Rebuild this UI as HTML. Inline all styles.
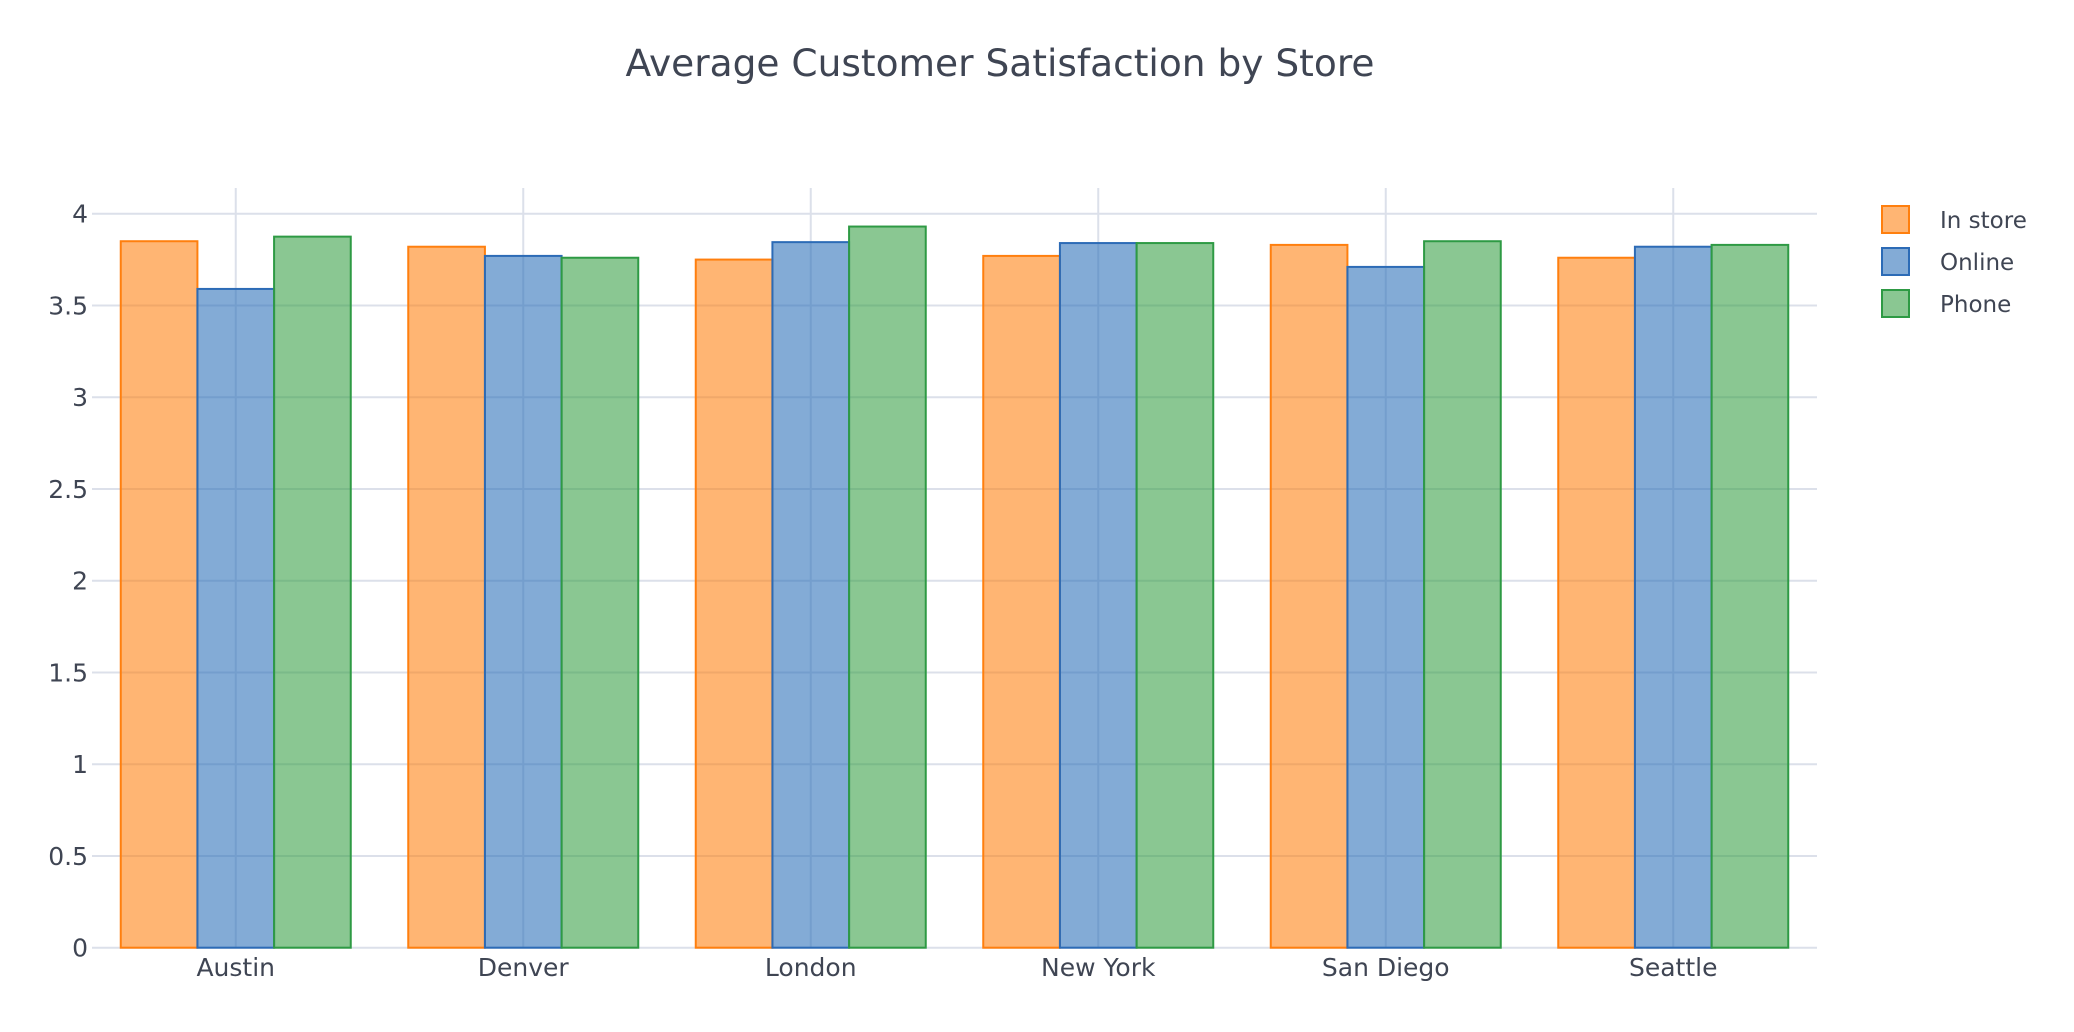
<!DOCTYPE html>
<html><head><meta charset="utf-8"><style>
body{margin:0;background:#fff;}
svg{display:block;font-family:"DejaVu Sans","Liberation Sans",sans-serif;}
</style></head><body>
<svg id="chart" width="2074" height="1032">
<text x="1000" y="76" text-anchor="middle" font-size="37.5" fill="#3f4553">Average Customer Satisfaction by Store</text>
<g id="grid"></g><g id="bars"></g><g id="axes"></g><g id="legend"></g>
</svg>
<script>
const categories=["Austin","Denver","London","New York","San Diego","Seattle"];
const seriesNames=["In store","Online","Phone"];
const inStore=[3.85,3.82,3.75,3.77,3.83,3.76];
const online=[3.59,3.77,3.845,3.84,3.71,3.82];
const phone=[3.875,3.76,3.93,3.84,3.85,3.83];
const yTicks=[0,0.5,1,1.5,2,2.5,3,3.5,4];
const yTickLabels=["0","0.5","1","1.5","2","2.5","3","3.5","4"];
const series=[inStore,online,phone];
const fills=["#ff7f0e","#2a6fb8","#359e44"];
const strokes=["#ff7f0e","#2c6bb6","#2e9a44"];
const NS="http://www.w3.org/2000/svg";
const X0=92,X1=1817,Y0=947.7,YTOP=213.7,YMAX=4;
const bandW=(X1-X0)/categories.length;
function y(v){return Y0-(v/YMAX)*(Y0-YTOP);}
function xc(i){return X0+bandW*(i+0.5);}
function mk(tag,attrs,parent){const e=document.createElementNS(NS,tag);for(const k in attrs)e.setAttribute(k,attrs[k]);parent.appendChild(e);return e;}
const grid=document.getElementById('grid'),bars=document.getElementById('bars'),axes=document.getElementById('axes'),legend=document.getElementById('legend');
yTicks.forEach((t,i)=>{
  if(t>0){const l=mk('line',{x1:X0,x2:X1,y1:y(t),y2:y(t),stroke:'#dce0ea','stroke-width':2},grid);
  
  }
  const tx=mk('text',{x:88,y:y(t)+9,'text-anchor':'end','font-size':25,fill:'#3f4553'},axes);
  tx.textContent=yTickLabels[i];
  
  
});
categories.forEach((c,i)=>{
  const l=mk('line',{x1:xc(i),x2:xc(i),y1:188,y2:Y0,stroke:'#dce0ea','stroke-width':2},grid);
  
  
  const tx=mk('text',{x:xc(i),y:976,'text-anchor':'middle','font-size':25,fill:'#3f4553'},axes);
  tx.textContent=c;
  
  
});
const zl=mk('line',{x1:X0,x2:X1,y1:Y0,y2:Y0,stroke:'#dce0ea','stroke-width':2},grid);


const groupW=bandW*0.8,bw=groupW/3;
series.forEach((vals,s)=>{
  vals.forEach((v,i)=>{
    const x=xc(i)-groupW/2+s*bw;
    const r=mk('rect',{x:x,y:y(v),width:bw,height:Y0-y(v),fill:fills[s],'fill-opacity':0.58,stroke:strokes[s],'stroke-width':2},bars);
    
    
  });
});
seriesNames.forEach((n,s)=>{
  const yy=206+s*42;
  const r=mk('rect',{x:1882,y:yy,width:27,height:27,fill:fills[s],'fill-opacity':0.58,stroke:strokes[s],'stroke-width':2},legend);
  
  
  const t=mk('text',{x:1940,y:yy+22,'font-size':23,fill:'#3f4553'},legend);
  t.textContent=n;
  
  
});
</script>
</body></html>
